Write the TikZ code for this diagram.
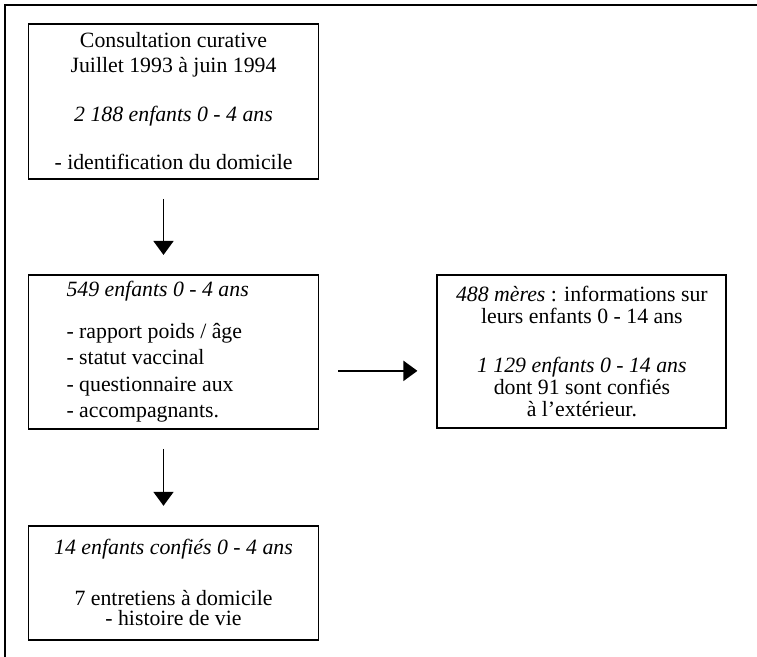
\documentclass[tikz,border=0pt]{standalone}
\usepackage{fontspec}
\setmainfont{Liberation Serif}
\usetikzlibrary{arrows.meta, positioning}
\newlength{\myUnit}
\setlength{\myUnit}{0.75pt}
\newlength{\myRuleWidth}
\setlength{\myRuleWidth}{1.4pt}

\begin{document}
\begin{tikzpicture}[x=\myUnit, y=-\myUnit,
                    my rule/.style={line width=\myRuleWidth},
                    my box/.style={
                      my rule, draw, inner sep=0pt, align=center,
                      minimum width=290\myUnit,
                      font=\fontsize{16.35}{18.3}\selectfont},
                    my arrow/.style={
                      my rule, -{Triangle[width=15pt, length=10.5pt]},
                      shorten <=14.25pt, shorten >=14.25pt}]

\useasboundingbox (0,0) rectangle (757,657);
\draw[my rule] (757,5) -- (5,5) -- (5,657);

\node[my box, minimum height=155\myUnit] (consult) at (173.5,101.5)
  {Consultation curative\\
   Juillet 1993 à juin 1994\\[\baselineskip]
   \textit{2 188 enfants 0 - 4 ans}\\[\baselineskip]
   - identification du domicile};

\node[my box, minimum height=154\myUnit, text width=214\myUnit,
      align=flush left, font=\fontsize{16.35}{19.9}\selectfont,
      below=94\myUnit of consult] (sample)
  {\textit{549 enfants 0 - 4 ans}\\[11.6pt]
   - rapport poids / âge\\
   - statut vaccinal\\
   - questionnaire aux\\
   - accompagnants.};

\node[my box, minimum height=153\myUnit, minimum width=289\myUnit,
      font=\fontsize{16.35}{16.5}\selectfont,
      right=117\myUnit of sample] (mothers)
  {\textit{488 mères} : informations sur\\
   leurs enfants 0 - 14 ans\\[20.25pt]
   \textit{1 129 enfants 0 - 14 ans}\\
   dont 91 sont confiés\\
   à l’extérieur.};

\node[my box, minimum height=114\myUnit,
      font=\fontsize{16.35}{15}\selectfont,
      below=95\myUnit of sample] (fostered)
  {\textit{14 enfants confiés 0 - 4 ans}\\[23.25pt]
   7 entretiens à domicile\\
   - histoire de vie};

\draw[my arrow] ([xshift=-7.5pt]consult.south) --
                ([xshift=-7.5pt]sample.north);
\draw[my arrow] ([xshift=-7.5pt]sample.south) --
                ([xshift=-7.5pt]fostered.north);
\draw[my arrow] ([yshift=-14.25pt]sample.east) --
                ([yshift=-14.25pt]sample.east -| mothers.west);
\end{tikzpicture}
\end{document}
